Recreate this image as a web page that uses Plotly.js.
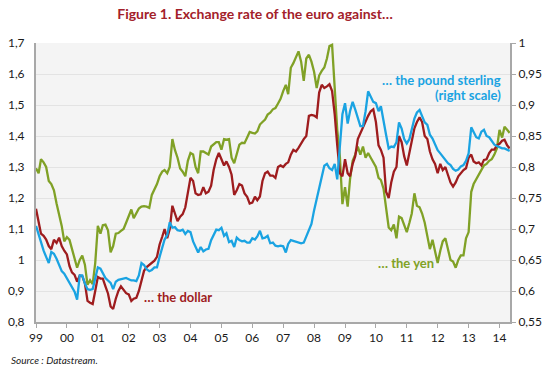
<!DOCTYPE html>
<html><head><meta charset="utf-8">
<script src="https://cdn.plot.ly/plotly-3.0.1.min.js"></script>
<style>html,body{margin:0;padding:0;background:#fff}#chart{width:550px;height:371px}</style>
</head><body><div id="chart"></div>
<script>
// Monthly series, January 1999 to May 2014
const startYear = 1999;

// EUR/USD (left scale)
const dollar = [
  1.165, 1.125, 1.085, 1.078, 1.066, 1.045, 1.035, 1.065, 1.055, 1.072, 1.045, 1.030,
  1.018, 0.980, 0.960, 0.952, 0.930, 0.950, 0.948, 0.925, 0.868, 0.862, 0.858, 0.900,
  0.945, 0.940, 0.940, 0.915, 0.892, 0.850, 0.842, 0.875, 0.900, 0.915, 0.905, 0.893,
  0.889, 0.868, 0.875, 0.878, 0.900, 0.930, 0.965, 0.977, 0.985, 0.990, 0.998, 1.010,
  1.050, 1.075, 1.100, 1.070, 1.100, 1.175, 1.150, 1.125, 1.140, 1.148, 1.170, 1.215,
  1.265, 1.255, 1.215, 1.210, 1.212, 1.235, 1.215, 1.220, 1.240, 1.290, 1.325, 1.345,
  1.323, 1.305, 1.318, 1.300, 1.275, 1.210, 1.225, 1.245, 1.240, 1.215, 1.204, 1.182,
  1.185, 1.204, 1.193, 1.205, 1.255, 1.280, 1.285, 1.272, 1.272, 1.265, 1.300, 1.305,
  1.300, 1.310, 1.315, 1.340, 1.355, 1.350, 1.362, 1.377, 1.390, 1.400, 1.465, 1.468,
  1.466, 1.460, 1.540, 1.565, 1.555, 1.560, 1.567, 1.545, 1.470, 1.370, 1.280, 1.270,
  1.325, 1.280, 1.270, 1.310, 1.334, 1.390, 1.410, 1.430, 1.450, 1.465, 1.480, 1.486,
  1.445, 1.370, 1.355, 1.330, 1.220, 1.200, 1.250, 1.285, 1.300, 1.400, 1.380, 1.335,
  1.305, 1.345, 1.380, 1.425, 1.445, 1.460, 1.445, 1.400, 1.390, 1.350, 1.325, 1.310,
  1.280, 1.310, 1.290, 1.300, 1.275, 1.250, 1.237, 1.250, 1.270, 1.280, 1.290, 1.296,
  1.330, 1.340, 1.318, 1.312, 1.315, 1.305, 1.323, 1.325, 1.345, 1.356, 1.356, 1.370,
  1.375, 1.385, 1.388, 1.370, 1.360
];

// EUR/JPY divided by 100 (left scale)
const yen = [
  1.296, 1.280, 1.325, 1.315, 1.300, 1.255, 1.245, 1.225, 1.182, 1.150, 1.110, 1.060,
  1.074, 1.065, 1.035, 1.005, 0.975, 1.000, 1.014, 0.985, 0.920, 0.935, 0.922, 0.990,
  1.110, 1.085, 1.112, 1.114, 1.096, 1.025, 1.045, 1.085, 1.087, 1.094, 1.100, 1.120,
  1.140, 1.163, 1.135, 1.150, 1.166, 1.172, 1.174, 1.172, 1.168, 1.210, 1.226, 1.245,
  1.270, 1.285, 1.290, 1.280, 1.300, 1.390, 1.355, 1.330, 1.295, 1.285, 1.270, 1.320,
  1.345, 1.340, 1.300, 1.280, 1.350, 1.350, 1.345, 1.340, 1.366, 1.372, 1.380, 1.380,
  1.356, 1.390, 1.388, 1.390, 1.330, 1.312, 1.340, 1.372, 1.378, 1.377, 1.395, 1.413,
  1.410, 1.408, 1.415, 1.437, 1.445, 1.453, 1.469, 1.475, 1.486, 1.490, 1.505, 1.520,
  1.545, 1.565, 1.535, 1.620, 1.635, 1.655, 1.673, 1.640, 1.578, 1.650, 1.662, 1.640,
  1.607, 1.555, 1.595, 1.610, 1.621, 1.650, 1.690, 1.694, 1.550, 1.420, 1.334, 1.180,
  1.235, 1.172, 1.260, 1.320, 1.340, 1.366, 1.340, 1.366, 1.330, 1.345, 1.330, 1.315,
  1.300, 1.265, 1.258, 1.230, 1.160, 1.105, 1.096, 1.115, 1.070, 1.140, 1.135, 1.110,
  1.090, 1.120, 1.150, 1.215, 1.175, 1.170, 1.150, 1.120, 1.080, 1.035, 1.065, 1.030,
  0.990, 1.030, 1.060, 1.070, 1.030, 1.000, 0.995, 0.975, 1.000, 1.015, 1.015, 1.070,
  1.090, 1.220, 1.245, 1.260, 1.275, 1.290, 1.305, 1.310, 1.320, 1.325, 1.340, 1.360,
  1.420, 1.395, 1.430, 1.420, 1.410
];

// EUR/GBP (right scale)
const pound = [
  0.705, 0.690, 0.677, 0.665, 0.655, 0.645, 0.663, 0.660, 0.652, 0.642, 0.632, 0.628,
  0.620, 0.612, 0.606, 0.599, 0.586, 0.625, 0.625, 0.612, 0.603, 0.602, 0.603, 0.622,
  0.638, 0.636, 0.628, 0.621, 0.617, 0.613, 0.603, 0.615, 0.618, 0.619, 0.620, 0.621,
  0.619, 0.617, 0.617, 0.616, 0.625, 0.645, 0.642, 0.635, 0.632, 0.634, 0.638, 0.638,
  0.655, 0.668, 0.683, 0.690, 0.711, 0.702, 0.703, 0.698, 0.697, 0.699, 0.692, 0.697,
  0.695, 0.680, 0.672, 0.662, 0.671, 0.664, 0.667, 0.668, 0.682, 0.691, 0.699, 0.698,
  0.702, 0.689, 0.693, 0.679, 0.681, 0.671, 0.686, 0.682, 0.680, 0.681, 0.678, 0.678,
  0.685, 0.683, 0.688, 0.697, 0.685, 0.686, 0.689, 0.677, 0.678, 0.673, 0.672, 0.673,
  0.672, 0.662, 0.676, 0.682, 0.681, 0.680, 0.679, 0.677, 0.678, 0.688, 0.700, 0.708,
  0.730, 0.748, 0.768, 0.788, 0.802, 0.805, 0.798, 0.795, 0.805, 0.780, 0.835, 0.885,
  0.903, 0.870, 0.890, 0.905, 0.893, 0.878, 0.866, 0.866, 0.890, 0.922, 0.912, 0.905,
  0.903, 0.890, 0.898, 0.872, 0.852, 0.830, 0.833, 0.832, 0.840, 0.872, 0.862, 0.845,
  0.838, 0.845, 0.860, 0.878, 0.888, 0.892, 0.882, 0.872, 0.868, 0.852, 0.846, 0.835,
  0.827, 0.822, 0.817, 0.810, 0.806, 0.803, 0.797, 0.794, 0.796, 0.801, 0.803, 0.810,
  0.822, 0.864, 0.856, 0.848, 0.846, 0.857, 0.860, 0.850, 0.848, 0.842, 0.836, 0.834,
  0.832, 0.830, 0.830, 0.828, 0.826
];

const titleText = 'Figure 1. Exchange rate of the euro against…';
const labelDollar = '… the dollar';
const labelYen = '… the yen';
const labelPound1 = '… the pound sterling';
const labelPound2 = '(right scale)';
const sourceText = 'Source : Datastream.';

const months = dollar.map((_, i) => {
  const y = startYear + Math.floor(i / 12);
  const m = (i % 12) + 1;
  return y + '-' + String(m).padStart(2, '0') + '-01';
});

const RED = '#9e1c1e', GREEN = '#80a126', BLUE = '#1aa3e2', TITLE = '#a3212a';
const FONT = 'Lato, "Open Sans", sans-serif';
const AX = '#a8a8a8';

const traces = [
  {x: months, y: yen, type: 'scatter', mode: 'lines', line: {color: GREEN, width: 2.3}, yaxis: 'y', hoverinfo: 'skip'},
  {x: months, y: pound, type: 'scatter', mode: 'lines', line: {color: BLUE, width: 2.3}, yaxis: 'y2', hoverinfo: 'skip'},
  {x: months, y: dollar, type: 'scatter', mode: 'lines', line: {color: RED, width: 2.3}, yaxis: 'y', hoverinfo: 'skip'}
];

const L = 36, R = 510, T = 43, B = 322;
const px = v => (v - L) / (R - L);
const py = v => (B - v) / (B - T);

const layout = {
  width: 550, height: 371,
  margin: {l: L, r: 550 - R, t: T, b: 371 - B, pad: 0},
  paper_bgcolor: '#ffffff', plot_bgcolor: '#f4f4f4',
  separators: ', ',
  showlegend: false,
  font: {family: FONT, size: 12, color: '#1a1a1a'},
  title: {text: titleText, font: {family: FONT, size: 14, color: TITLE, weight: 700},
          x: 255 / 550, xref: 'container', xanchor: 'center', y: 1 - 14 / 371, yref: 'container', yanchor: 'middle'},
  xaxis: {type: 'date', range: ['1999-01-01', '2014-05-05'], tick0: '1999-01-01', dtick: 'M12', tickformat: '%y',
          ticks: 'outside', ticklen: 4, tickcolor: AX, tickwidth: 1, showline: true, linecolor: AX, linewidth: 2,
          showgrid: false, zeroline: false, tickfont: {size: 12, color: '#1a1a1a'}, fixedrange: true},
  yaxis: {range: [0.8, 1.7], tick0: 0.8, dtick: 0.1, showline: true, linecolor: AX, linewidth: 2,
          gridcolor: '#e3e3e3', gridwidth: 1, zeroline: false, ticks: '', ticklabelstandoff: 7,
          tickfont: {size: 12, color: '#1a1a1a'}, fixedrange: true},
  yaxis2: {overlaying: 'y', side: 'right', range: [0.55, 1], tick0: 0.55, dtick: 0.05, showline: true, linecolor: AX, linewidth: 2,
           showgrid: false, zeroline: false, ticks: 'outside', ticklen: 4, tickcolor: AX,
           tickfont: {size: 12, color: '#1a1a1a'}, fixedrange: true},
  annotations: [
    {text: labelDollar, xref: 'paper', yref: 'paper', x: px(142), y: py(297), xanchor: 'left', yanchor: 'middle', showarrow: false,
     font: {family: FONT, size: 13, color: RED, weight: 700}},
    {text: labelYen, xref: 'paper', yref: 'paper', x: px(376), y: py(263), xanchor: 'left', yanchor: 'middle', showarrow: false,
     font: {family: FONT, size: 13, color: GREEN, weight: 700}},
    {text: labelPound1, xref: 'paper', yref: 'paper', x: px(503), y: py(80), xanchor: 'right', yanchor: 'middle', showarrow: false,
     font: {family: FONT, size: 13, color: BLUE, weight: 700}},
    {text: labelPound2, xref: 'paper', yref: 'paper', x: px(503), y: py(95), xanchor: 'right', yanchor: 'middle', showarrow: false,
     font: {family: FONT, size: 13, color: BLUE, weight: 700}},
    {text: sourceText, xref: 'paper', yref: 'paper', x: px(9), y: py(360), xanchor: 'left', yanchor: 'middle', showarrow: false,
     font: {family: FONT, size: 10, color: '#1a1a1a', style: 'italic'}}
  ]
};

Plotly.newPlot('chart', traces, layout, {staticPlot: true, displayModeBar: false});
</script>
</body></html>
